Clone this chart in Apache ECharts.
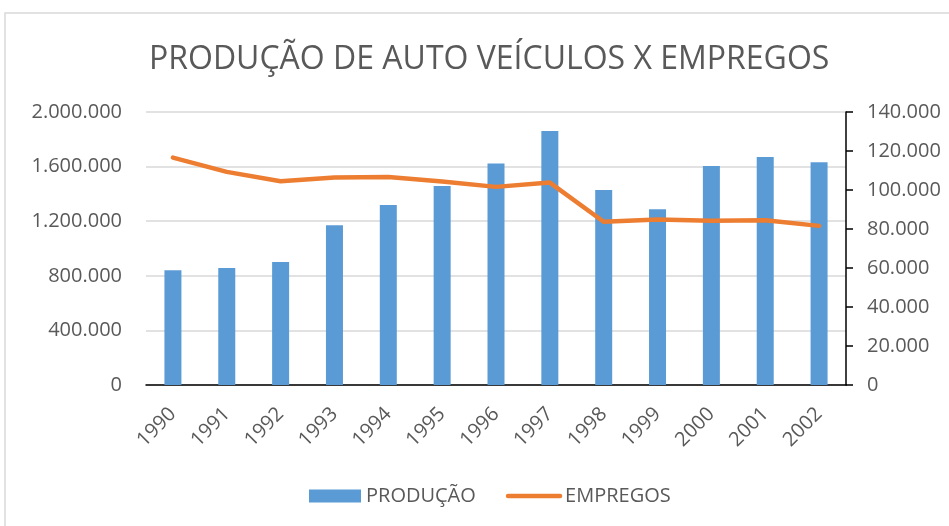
<!DOCTYPE html>
<html>
<head>
<meta charset="utf-8">
<script src="https://cdn.jsdelivr.net/npm/echarts@6/dist/echarts.min.js"></script>
<style>
html, body { margin: 0; padding: 0; background: #fff; }
#chart { width: 949px; height: 526px; }
</style>
</head>
<body>
<div id="chart"></div>
<script>
const anos = ['1990', '1991', '1992', '1993', '1994', '1995', '1996', '1997', '1998', '1999', '2000', '2001', '2002'];
const producao = [841000, 858000, 902000, 1170000, 1319000, 1458000, 1622000, 1861000, 1429000, 1288000, 1605000, 1670000, 1631000];
const empregos = [116600, 109300, 104500, 106400, 106700, 104300, 101600, 103800, 83700, 84900, 84200, 84500, 81600];

const fonte = 'Open Sans, Calibri, sans-serif';
const cinza = '#595959';

function pontos(v) {
    return String(v).replace(/\B(?=(\d{3})+(?!\d))/g, '.');
}

let chart = echarts.init(document.getElementById('chart'));

let option = {
    animation: false,
    textStyle: { fontFamily: fonte },
    graphic: [{
        type: 'rect',
        shape: { x: 5, y: 13, width: 960, height: 540 },
        style: { fill: 'none', stroke: '#d9d9d9', lineWidth: 1.5 },
        silent: true
    }],
    title: {
        text: 'PRODUÇÃO DE AUTO VEÍCULOS X EMPREGOS',
        left: 144,
        top: 39,
        textStyle: { fontFamily: fonte, fontSize: 32, fontWeight: 'normal', color: cinza }
    },
    legend: {
        top: 481,
        left: 304,
        itemGap: 30,
        itemWidth: 52,
        itemHeight: 13,
        textStyle: { fontFamily: fonte, fontSize: 20, color: cinza },
        data: [
            { name: 'PRODUÇÃO', icon: 'rect' },
            { name: 'EMPREGOS', itemStyle: { opacity: 0 }, lineStyle: { width: 4.5 } }
        ]
    },
    grid: {
        left: 146,
        right: 949 - 846,
        top: 112,
        bottom: 526 - 385,
        containLabel: false
    },
    xAxis: {
        type: 'category',
        data: anos,
        axisLine: { lineStyle: { color: '#000', width: 1.5 } },
        axisTick: { show: false },
        axisLabel: {
            rotate: 45,
            fontSize: 20,
            color: cinza,
            margin: 26
        }
    },
    yAxis: [{
        type: 'value',
        min: 0,
        max: 2000000,
        interval: 400000,
        axisLine: { show: false },
        axisTick: { show: false },
        splitLine: { lineStyle: { color: '#d9d9d9', width: 1.5 } },
        axisLabel: {
            fontSize: 20,
            color: cinza,
            margin: 24,
            formatter: pontos
        }
    }, {
        type: 'value',
        min: 0,
        max: 140000,
        interval: 20000,
        position: 'right',
        axisLine: { show: true, lineStyle: { color: '#000', width: 1.5 } },
        axisTick: { show: true, inside: false, length: 7, lineStyle: { color: '#000', width: 1.5 } },
        splitLine: { show: false },
        axisLabel: {
            fontSize: 20,
            color: cinza,
            margin: 21,
            formatter: pontos
        }
    }],
    series: [{
        name: 'PRODUÇÃO',
        type: 'bar',
        yAxisIndex: 0,
        data: producao,
        barWidth: 17,
        itemStyle: { color: '#5b9bd5' }
    }, {
        name: 'EMPREGOS',
        type: 'line',
        yAxisIndex: 1,
        data: empregos,
        symbol: 'none',
        lineStyle: { color: '#ed7d31', width: 4.5, cap: 'round', join: 'round' },
        itemStyle: { color: '#ed7d31' }
    }]
};
chart.setOption(option);
</script>
</body>
</html>
